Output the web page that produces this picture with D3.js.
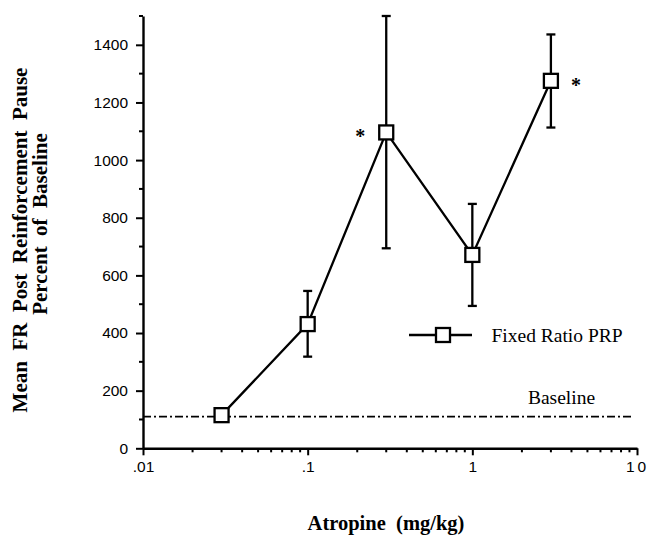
<!DOCTYPE html>
<html><head><meta charset="utf-8">
<script src="https://cdn.jsdelivr.net/npm/d3@7"></script>
<style>
html,body{margin:0;padding:0;background:#fff;}
svg{display:block;}
</style></head>
<body>
<svg id="chart" width="649" height="537"></svg>
<script>
// Data
const doses = [0.03, 0.1, 0.3, 1, 3];
const means = [115, 431, 1096, 671, 1275];
const errUpper = [115, 546, 1500, 848, 1436];
const errLower = [115, 318, 694, 494, 1113];
const significant = [false, false, true, false, true];
const baselineValue = 110;
const xTickValues = [0.01, 0.1, 1, 10];
const xTickLabels = [".01", ".1", "1", "10"];
const yTickValues = [0, 200, 400, 600, 800, 1000, 1200, 1400];
const yMinorValues = [100, 300, 500, 700, 900, 1100, 1300, 1500];

const svg = d3.select("#chart");
const x = d3.scaleLog().domain([0.01, 10]).range([143, 637]);
const y = d3.scaleLinear().domain([0, 1500]).range([448.3, 16]);

const serif = '"Liberation Serif","Times New Roman",serif';
const sans = '"Liberation Sans",Arial,sans-serif';
const sw = 2.3;

// Minor x ticks
const xMinor = [];
[0.01, 0.1, 1].forEach(d => { for (let k = 2; k <= 9; k++) xMinor.push(d * k); });
svg.append("g").selectAll("line").data(xMinor).join("line")
  .attr("x1", d => x(d)).attr("x2", d => x(d))
  .attr("y1", y(0)).attr("y2", y(0) + 4)
  .attr("stroke", "#000").attr("stroke-width", 2);

// Minor y ticks
svg.append("g").selectAll("line").data(yMinorValues).join("line")
  .attr("x1", x(0.01)).attr("x2", x(0.01) - 4)
  .attr("y1", d => y(d)).attr("y2", d => y(d))
  .attr("stroke", "#000").attr("stroke-width", 2);

// X axis
const xAxis = svg.append("g").attr("transform", `translate(0,${y(0)})`)
  .call(d3.axisBottom(x).tickValues(xTickValues)
    .tickFormat((d, i) => xTickLabels[i]).tickSize(7).tickPadding(6).tickSizeOuter(0));
xAxis.select(".domain").attr("stroke-width", 2.4);
xAxis.selectAll(".tick line").attr("stroke-width", 2);
xAxis.selectAll(".tick text").attr("font-size", 15.5).attr("font-family", sans)
  .attr("fill", "#000")
  .attr("letter-spacing", (d, i) => i === 3 ? 3 : 0);

// Y axis
const yAxis = svg.append("g").attr("transform", `translate(${x(0.01)},0)`)
  .call(d3.axisLeft(y).tickValues(yTickValues).tickFormat(d3.format("d"))
    .tickSize(7).tickPadding(8).tickSizeOuter(0));
yAxis.select(".domain").attr("stroke-width", 2.4);
yAxis.selectAll(".tick line").attr("stroke-width", 2);
yAxis.selectAll(".tick text").attr("font-size", 15.5).attr("font-family", sans).attr("fill", "#000");

// Baseline
svg.append("line")
  .attr("x1", x(0.01)).attr("x2", 633)
  .attr("y1", y(baselineValue)).attr("y2", y(baselineValue))
  .attr("stroke", "#000").attr("stroke-width", 1.6)
  .attr("stroke-dasharray", "8,3,2,3");
svg.append("text").attr("x", 561.5).attr("y", 404).attr("text-anchor", "middle")
  .attr("font-family", serif).attr("font-size", 19.5).text("Baseline");

// Error bars
const pts = doses.map((d, i) => ({ d, m: means[i], hi: errUpper[i], lo: errLower[i], s: significant[i] }));
const eg = svg.append("g").attr("stroke", "#000").attr("stroke-width", sw);
pts.forEach(p => {
  if (p.hi === p.lo) return;
  eg.append("line").attr("x1", x(p.d)).attr("x2", x(p.d)).attr("y1", y(p.hi)).attr("y2", y(p.lo));
  [p.hi, p.lo].forEach(v => {
    eg.append("line").attr("x1", x(p.d) - 4.5).attr("x2", x(p.d) + 4.5).attr("y1", y(v)).attr("y2", y(v));
  });
});

// Line
svg.append("path").datum(pts)
  .attr("d", d3.line().x(p => x(p.d)).y(p => y(p.m)))
  .attr("fill", "none").attr("stroke", "#000").attr("stroke-width", sw);

// Markers
svg.append("g").selectAll("rect").data(pts).join("rect")
  .attr("x", p => x(p.d) - 7).attr("y", p => y(p.m) - 7)
  .attr("width", 14).attr("height", 14)
  .attr("fill", "#fff").attr("stroke", "#000").attr("stroke-width", sw);

// Asterisks
const starOffsets = { 0.3: -26, 3: 25 };
svg.append("g").selectAll("text").data(pts.filter(p => p.s)).join("text")
  .attr("x", p => x(p.d) + starOffsets[p.d])
  .attr("y", p => y(p.m) + 11)
  .attr("text-anchor", "middle")
  .attr("font-family", serif).attr("font-weight", "bold").attr("font-size", 20)
  .text("*");

// Legend
const lg = svg.append("g");
lg.append("line").attr("x1", 409).attr("x2", 472).attr("y1", 335).attr("y2", 335)
  .attr("stroke", "#000").attr("stroke-width", sw);
lg.append("rect").attr("x", 436).attr("y", 328).attr("width", 14).attr("height", 14)
  .attr("fill", "#fff").attr("stroke", "#000").attr("stroke-width", sw);
lg.append("text").attr("x", 491.5).attr("y", 342).attr("font-family", serif)
  .attr("font-size", 19.5).text("Fixed Ratio PRP");

// Axis titles
svg.append("text").attr("x", 386).attr("y", 530).attr("text-anchor", "middle")
  .attr("font-family", serif).attr("font-weight", "bold").attr("font-size", 20.5)
  .style("white-space", "pre").text("Atropine  (mg/kg)");
const yl = svg.append("g").attr("transform", "translate(27,240) rotate(-90)");
yl.append("text").attr("x", 0).attr("y", 0).attr("text-anchor", "middle")
  .attr("font-family", serif).attr("font-weight", "bold").attr("font-size", 21)
  .style("white-space", "pre").text("Mean  FR  Post  Reinforcement  Pause");
yl.append("text").attr("x", 16).attr("y", 20).attr("text-anchor", "middle")
  .attr("font-family", serif).attr("font-weight", "bold").attr("font-size", 21)
  .style("white-space", "pre").text("Percent  of  Baseline");
</script>
</body></html>
